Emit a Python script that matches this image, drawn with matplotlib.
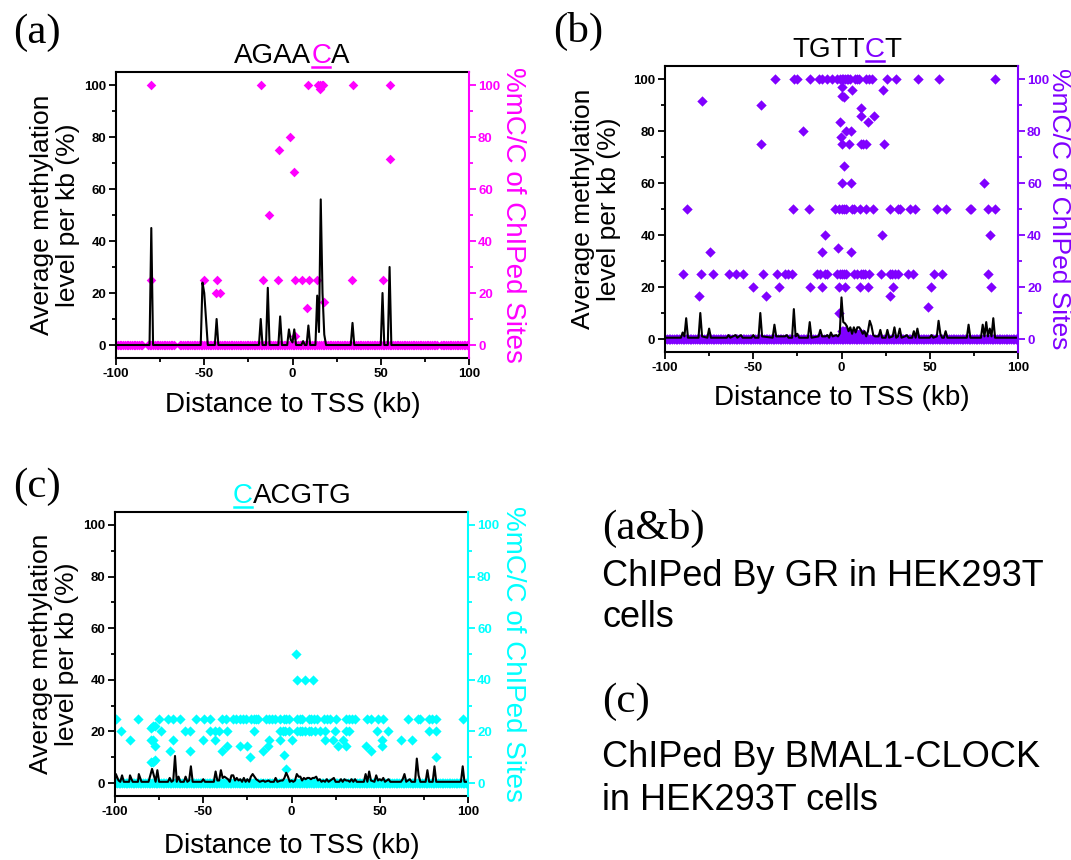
import matplotlib.pyplot as plt
from matplotlib.lines import Line2D

plt.rcParams['font.family'] = ['Liberation Sans', 'DejaVu Sans']
plt.rcParams['axes.unicode_minus'] = False

# --- colours ---
MAGENTA = '#FF00FF'
PURPLE = '#8000FF'
CYAN = '#00FFFF'

W, H = 1071, 860

# --- (a) AGAACA : average methylation per kb (black line vertices) ---
line_a_x = [-100, -81, -80, -79, -52, -51, -50, -49, -48, -44, -43, -42, -19, -18, -17,
            -15, -14, -13, -8, -7, -6, -3, -2, -1, 0, 1, 2, 5, 6, 7, 8, 9, 10, 13, 14,
            15, 16, 17, 18, 19, 33, 34, 35, 50, 51, 52, 54, 55, 56, 100]
line_a_y = [0, 0, 45, 0, 0, 24, 20, 10, 0, 0, 10, 0, 0, 10, 0,
            0, 22, 0, 0, 11, 0, 0, 6, 2, 1, 6, 0, 0, 1.5, 0, 0, 7.5, 0, 0, 19,
            5, 56, 20, 4, 0, 0, 8.5, 0, 0, 20, 0, 0, 30, 0, 0]

# %mC/C of sites, grouped by level
sites_a_levels = [100, 98.5, 80, 75, 71.4, 66.7, 50, 25, 20, 16.7, 14.3, 3.5]
sites_a_x = [
    [-80, -18, 9, 14.5, 15.5, 16.5, 17.2, 34, 55],
    [15.8],
    [-1.5],
    [-7.5],
    [55.5],
    [1],
    [-13.5],
    [-80, -50, -43, -16.5, -8, 1.5, 5.5, 9.5, 14, 33.5, 51],
    [-43.5, -41],
    [18],
    [8],
    [1.5],
]
# stretches (kb) holding sites with 0 %mC/C
zero_a = [(-100, -85), (-82, -67), (-64, 82), (84, 100)]

# --- (b) TGTTCT ---
line_b_x = [-100, -91, -90, -89, -88, -87, -81, -80, -79, -76, -75, -74, -65, -64, -63,
            -60, -59, -57, -56, -51, -50, -49, -47, -46, -45, -39, -38, -37, -32, -31,
            -30, -28, -27, -26, -25, -24, -19, -18, -17, -13, -12, -11, -9, -8, -7,
            -6, -5, -3, -2, -1, 0, 1, 2, 3, 4, 5, 6, 7, 8, 9, 10, 11, 12, 13, 14, 15,
            16, 17, 18, 19, 21, 22, 23, 25, 26, 27, 29, 30, 31, 32, 33, 34, 36, 37, 38,
            40, 41, 42, 43, 44, 50, 51, 52, 54, 55, 56, 57, 58, 59, 60, 71, 72, 73, 79,
            80, 81, 82, 83, 84, 85, 86, 87, 100]
line_b_y = [0.5, 0.5, 2.5, 1, 8, 0.5, 0.5, 10, 1, 0.5, 4, 0.5, 0.5, 1.5, 0.5,
            1.5, 0.5, 1.5, 0.5, 0.5, 1.5, 0.5, 0.5, 10, 1, 0.5, 5.5, 1, 1, 1.5,
            0.5, 0.5, 11.5, 1, 2, 0.5, 0.5, 6.5, 0.5, 1, 3.5, 1, 1, 1.5, 0.5,
            2.5, 1, 1.5, 1, 2, 16, 6.5, 6, 5, 3, 4.5, 2, 4.5, 2.5, 4.5, 4.5, 3.5, 2, 3, 1, 3,
            7, 5, 1.5, 1, 1, 3.5, 0.5, 0.5, 3.5, 0.5, 1, 4.5, 0.5, 1, 4, 0.5, 1, 1.5, 0.5,
            0.5, 3, 0.5, 4, 0.5, 0.5, 1.5, 0.5, 1, 7, 2, 0.5, 0.5, 3, 0.5, 0.5, 5.5, 0.5, 0.5,
            5.5, 1, 6.5, 1, 4, 1, 8, 0.5, 0.5]

sites_b_levels = [100, 96.9, 95.9, 93.3, 92.9, 91.7, 90, 88.9, 85.7, 83.3, 80, 77.8, 75,
                  66.7, 60, 50, 40, 35, 33.3, 25, 20, 16.7, 12.5, 10, 3, 2]
sites_b_x = [
    [-37.7, -27, -25.1, -17.9, -12.6, -11.3, -8.1, -5.1, -2.5, -1, 0, 1, 2, 3, 3.8, 4.7,
     7.5, 8.9, 10, 13.8, 15.7, 17.4, 25.8, 30.8, 43.6, 55.1, 87],
    [0.2],
    [6, 23.4],
    [0],
    [1.5],
    [-79.2],
    [-45.7],
    [11.3],
    [11.3, 18.3],
    [-0.9, 14.9],
    [-22, 2.3, 5.3],
    [-0.2],
    [-45.7, 0, 4.3, 11.3, 12.3, 13.6, 23.8],
    [1.3],
    [0, 5.3, 80.6],
    [-87.4, -27.7, -18.5, -3.8, -1.5, 0, 1.3, 2.8, 6, 7, 10.4, 13.8, 17.7, 27.4, 32, 33.4,
     38.7, 41.7, 54.3, 59.4, 72.6, 73.6, 83, 86.8],
    [-9.1, 23, 84.3],
    [-1.7],
    [-74.7, -10.9, 5.5],
    [-89.6, -79.8, -73, -63.6, -59.8, -56, -44.3, -36.8, -32, -30.2, -27.9, -13.8, -12.3,
     -9.4, -8.1, -2.5, -1, 0, 1.2, 2.8, 7, 8.9, 10.8, 11.9, 13.4, 15.7, 22.6, 27.4, 28.7,
     30.2, 32, 37.9, 40.6, 52.5, 57, 83],
    [-50.4, -35.3, -17.9, -11.3, -1.3, 1.9, 10.4, 15.1, 28.9, 50.9, 84.5],
    [-80.6, -42.5, 27.4],
    [49.2],
    [-1.3],
    [0, 1, 2],
    [3, 4, 5, 6, 7, 8, 9, 10, 11, 12],
]
zero_b = [(-100, 100)]

# --- (c) CACGTG ---
line_c_x = [-100, -99.5, -98, -97, -96, -95, -92, -91.5, -90, -87, -86.5, -85, -81, -80,
            -79, -78, -77, -76, -75, -70, -69, -68, -67, -66, -65, -64, -63, -61, -60,
            -59, -58, -57, -56, -51, -50, -49, -44, -43, -42, -41, -40, -39, -38, -37,
            -36, -35, -34, -33, -32, -31, -30, -29, -28, -27, -26, -25, -24, -23, -22,
            -21, -20, -19, -18, -16, -15, -13, -12, -10, -9, -8, -6, -5, -4, -3, -2, -1,
            0, 1, 2, 3, 4, 5, 6, 7, 8, 9, 10, 11, 12, 13, 14, 15, 16, 17, 18, 19, 20, 21,
            23, 24, 25, 27, 28, 29, 30, 31, 32, 33, 34, 35, 36, 37, 41, 42, 43, 44, 45,
            47, 48, 49, 50, 51, 52, 53, 55, 56, 62, 63, 64, 65, 67, 68, 70, 71, 72, 73,
            76, 77, 78, 80, 81, 82, 96, 97, 98, 100]
line_c_y = [1, 3.5, 1, 0.5, 3, 0.5, 0.5, 3, 0.5, 0.5, 3.5, 0.5, 0.5, 3,
            5.5, 3, 0.5, 5, 0.5, 0.5, 2, 0.5, 1, 10.5, 0.5, 2.5, 0.5, 0.5, 2.5,
            0.5, 1, 6.5, 0.5, 0.5, 1.5, 0.5, 0.5, 4.5, 1, 1, 5, 2, 2.5, 2,
            1.5, 0.5, 3, 3, 1, 2, 1, 1.5, 0.5, 2, 0.5, 1.5, 0.5, 2.5, 3.5,
            2.5, 1.5, 1, 0.5, 1, 0.5, 1, 0.5, 0.5, 2, 0.5, 1, 1, 2, 4, 2.5, 0.5,
            1, 0.5, 1, 3.5, 2.5, 2.5, 1, 2, 1.5, 2, 2, 1.5, 2, 2, 2.5, 1, 1.5, 0.5, 1, 0.5, 1.5, 0.5,
            1.5, 2, 0.5, 0.5, 1.5, 0.5, 1.5, 1, 1, 0.5, 1.5, 0.5, 1.5, 0.5, 0.5, 3.5, 0.5, 4.5, 1,
            0.5, 3, 1, 1.5, 1, 2, 0.5, 1.5, 0.5, 0.5, 1.5, 3.5, 0.5, 1.5, 0.5, 0.5, 9.5, 3, 0.5,
            0.5, 5, 0.5, 0.5, 6.5, 0.5, 0.5, 6.5, 0.5, 0.5]

sites_c_levels = [50, 40, 25, 22.2, 21.4, 20, 16.7, 14.3, 12.5, 11, 10, 9, 8, 5.5]
sites_c_x = [
    [2.6],
    [3.3, 7.7, 11.9],
    [-99.6, -86.8, -75.2, -69.7, -66.9, -63.1, -54, -49.3, -46, -39.5, -37, -33.2, -31.3,
     -29.4, -27.5, -25.6, -23, -21.5, -20.3, -19.2, -14.3, -12.6, -11.1, -9.2, -6.3, -4.4,
     -2.9, -1.6, 3.1, 4.6, 6, 9.7, 11.1, 12.6, 14.5, 18.6, 20.2, 22, 25.3, 31.1, 32.5, 34.4,
     36.2, 42.5, 45.2, 49, 52, 65.8, 71.6, 72.6, 77.9, 79.4, 82, 97.2],
    [-78.5, -77.6],
    [-79.6],
    [-96.8, -73.9, -60.6, -57.4, -46.3, -43.5, -41, -36.8, -21.1, -6.3, -4.8, -3.5, -1.6,
     3.1, 4.6, 6, 7.9, 9.7, 11.1, 13.5, 16.4, 19.2, 24.9, 30.6, 32.5, 48.5, 54.6, 77.9, 81.9],
    [-91.5, -79.4, -78.5, -66.9, -50.3, -43.3, -13, -6.7, 0.1, 19.2, 23.6, 29, 51.3, 62.3, 68.4],
    [-77.6, -36.6, -29.4, -25.2, -13.3, 26.2, 30.6, 42.3, 51.3],
    [-68.9, -57.6, -39.6, -16.2, 45.2],
    [-4.2],
    [-23.4, 81.7],
    [-77.6],
    [-79.4, -78.5],
    [-3.1],
]
zero_c = [(-100, 100)]

fig = plt.figure(figsize=(W / 100, H / 100), dpi=100)


def px_rect(left, top, right, bottom):
    return [left / W, 1 - bottom / H, (right - left) / W, (bottom - top) / H]


def draw_panel(rect, lx, ly, levels, xs, zero_runs, color, size, ylab_x, rlab_x, xlab_y,
               rlab_size=20):
    ax = fig.add_axes(rect)
    zx = [x for a, b in zero_runs for x in range(a, b + 1)]
    ax.scatter(zx, [0] * len(zx), marker='D', s=size, color=color, linewidths=0, zorder=2)
    px, py = [], []
    for lev, row in zip(levels, xs):
        px += row
        py += [lev] * len(row)
    ax.scatter(px, py, marker='D', s=size, color=color, linewidths=0, zorder=2)
    ax.plot(lx, ly, color='black', lw=1.5, zorder=3)

    ax.set_xlim(-100, 100)
    ax.set_ylim(-5, 105)
    ax.set_xticks([-100, -50, 0, 50, 100])
    ax.set_xticks([-75, -25, 25, 75], minor=True)
    ax.set_yticks([0, 20, 40, 60, 80, 100])
    ax.set_yticks([10, 30, 50, 70, 90], minor=True)
    ax.tick_params(which='both', direction='out', width=1.3, top=False, right=False)
    ax.tick_params(which='major', length=5, labelsize=9.5, pad=2)
    ax.tick_params(which='minor', length=3)
    for t in ax.get_xticklabels() + ax.get_yticklabels():
        t.set_fontweight('bold')
    for s in ['left', 'bottom', 'top']:
        ax.spines[s].set_linewidth(1.5)
    ax.spines['right'].set_visible(False)

    ax.set_xlabel('Distance to TSS (kb)', fontsize=20, va='center')
    ax.xaxis.set_label_coords(0.5, xlab_y)
    ax.set_ylabel('Average methylation\nlevel per kb (%)', fontsize=19, linespacing=1.1,
                  va='center', ha='center')
    ax.yaxis.set_label_coords(ylab_x, 0.5)

    ax2 = ax.twinx()
    ax2.set_ylim(-5, 105)
    ax2.set_yticks([0, 20, 40, 60, 80, 100])
    ax2.set_yticks([10, 30, 50, 70, 90], minor=True)
    for s in ['left', 'bottom', 'top']:
        ax2.spines[s].set_visible(False)
    ax2.spines['right'].set_color(color)
    ax2.spines['right'].set_linewidth(1.5)
    ax2.tick_params(which='both', direction='out', width=1.3, colors=color)
    ax2.tick_params(which='major', length=5, labelsize=9.5, pad=1.5)
    ax2.tick_params(which='minor', length=3)
    for t in ax2.get_yticklabels():
        t.set_fontweight('bold')
    ax2.set_ylabel('%mC/C of ChIPed Sites', color=color, fontsize=rlab_size, rotation=270,
                   va='center', ha='center')
    ax2.yaxis.set_label_coords(rlab_x, 0.5)
    return ax


draw_panel(px_rect(116, 72, 469, 358), line_a_x, line_a_y, sites_a_levels, sites_a_x,
           zero_a, MAGENTA, 24, -0.173, 1.125, -0.164)
draw_panel(px_rect(665, 66, 1018, 352), line_b_x, line_b_y, sites_b_levels, sites_b_x,
           zero_b, PURPLE, 28, -0.195, 1.117, -0.161, rlab_size=19)
draw_panel(px_rect(115, 512, 468, 796), line_c_x, line_c_y, sites_c_levels, sites_c_x,
           zero_c, CYAN, 27, -0.173, 1.128, -0.176)

# --- motif titles with the methylated C coloured and underlined ---
renderer = fig.canvas.get_renderer()


def motif_title(pieces, cx, base_y, size=20):
    widths = []
    for s, c in pieces:
        t = fig.text(0, 0, s, fontsize=size)
        widths.append(t.get_window_extent(renderer).width)
        t.remove()
    x = cx - sum(widths) / 2
    for (s, c), w in zip(pieces, widths):
        fig.text(x / W, 1 - base_y / H, s, fontsize=size, color=c, va='baseline', ha='left')
        if c != 'black':
            fig.add_artist(Line2D([(x + 1) / W, (x + w - 1) / W],
                                  [1 - (base_y + 4) / H] * 2, color=c, lw=1.8))
        x += w


motif_title([('AGAA', 'black'), ('C', MAGENTA), ('A', 'black')], 292, 63)
motif_title([('TGTT', 'black'), ('C', PURPLE), ('T', 'black')], 847, 57)
motif_title([('C', CYAN), ('ACGTG', 'black')], 292, 503)

# --- panel letters and notes ---
serif = ['Liberation Serif', 'DejaVu Serif']
fig.text(13 / W, 1 - 43 / H, '(a)', fontsize=31, family=serif, va='baseline')
fig.text(553 / W, 1 - 42 / H, '(b)', fontsize=31, family=serif, va='baseline')
fig.text(13 / W, 1 - 497 / H, '(c)', fontsize=31, family=serif, va='baseline')

fig.text(602 / W, 1 - 539 / H, '(a&b)', fontsize=31, family=serif, va='baseline')
fig.text(602 / W, 1 - 586 / H, 'ChIPed By GR in HEK293T', fontsize=26, va='baseline')
fig.text(602 / W, 1 - 627 / H, 'cells', fontsize=26, va='baseline')
fig.text(602 / W, 1 - 712 / H, '(c)', fontsize=31, family=serif, va='baseline')
fig.text(602 / W, 1 - 767 / H, 'ChIPed By BMAL1-CLOCK', fontsize=26, va='baseline')
fig.text(602 / W, 1 - 810 / H, 'in HEK293T cells', fontsize=26, va='baseline')

fig.savefig('out.png', dpi=100)
